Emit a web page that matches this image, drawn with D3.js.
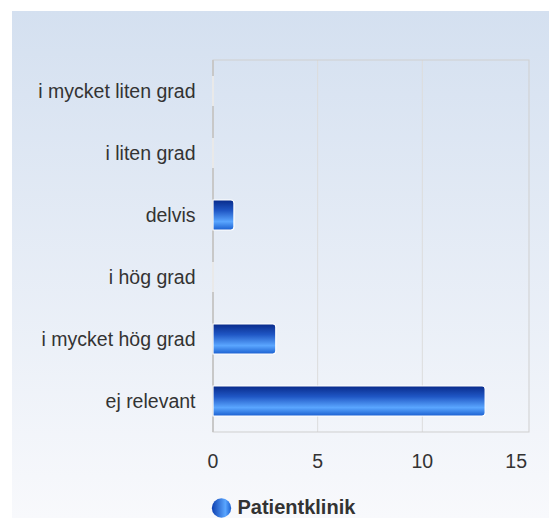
<!DOCTYPE html>
<html>
<head>
<meta charset="utf-8">
<script src="https://cdn.jsdelivr.net/npm/d3@7"></script>
<style>
  body { margin: 0; background: #fff; }
  text { font-family: "Liberation Sans", Arial, sans-serif; fill: #333; }
</style>
</head>
<body>
<div id="chart"></div>
<script>
var categories = ["i mycket liten grad", "i liten grad", "delvis", "i hög grad", "i mycket hög grad", "ej relevant"];
var values = [0, 0, 1, 0, 3, 13];
var xTicks = [0, 5, 10, 15];
var seriesName = "Patientklinik";

var W = 549, H = 518;
var margin = {left: 213, right: 20, top: 60, bottom: 86};
var width = 529 - margin.left, height = 432 - margin.top;

var svg = d3.select("#chart").append("svg")
    .attr("width", W).attr("height", H);

var defs = svg.append("defs");
var bg = defs.append("linearGradient").attr("id", "bg")
    .attr("x1", 0).attr("y1", 0).attr("x2", 0).attr("y2", 1);
bg.append("stop").attr("offset", "0%").attr("stop-color", "#d4e0f0");
bg.append("stop").attr("offset", "100%").attr("stop-color", "#f8f9fc");

var barGrad = defs.append("linearGradient").attr("id", "bar")
    .attr("x1", 0).attr("y1", 0).attr("x2", 0).attr("y2", 1);
barGrad.append("stop").attr("offset", "0%").attr("stop-color", "#082a8a");
barGrad.append("stop").attr("offset", "35%").attr("stop-color", "#1f56c4");
barGrad.append("stop").attr("offset", "72%").attr("stop-color", "#5aa6ff");
barGrad.append("stop").attr("offset", "100%").attr("stop-color", "#1a5fd0");

var legGrad = defs.append("linearGradient").attr("id", "leg")
    .attr("x1", 0).attr("y1", 0).attr("x2", 1).attr("y2", 0);
legGrad.append("stop").attr("offset", "0%").attr("stop-color", "#0d3fb0");
legGrad.append("stop").attr("offset", "70%").attr("stop-color", "#5aa6ff");
legGrad.append("stop").attr("offset", "100%").attr("stop-color", "#1a5fd0");

svg.append("rect")
    .attr("x", 12).attr("y", 11)
    .attr("width", W - 12).attr("height", H - 11)
    .attr("fill", "url(#bg)");

var g = svg.append("g")
    .attr("transform", "translate(" + margin.left + "," + margin.top + ")");

var x = d3.scaleLinear().domain([0, 15]).range([0, 314]);
var y = d3.scaleBand().domain(categories).range([0, height])
    .paddingInner(0.516).paddingOuter(0.258);

// grid
g.selectAll(".grid").data(xTicks.slice(1, -1)).enter().append("line")
    .attr("x1", function (d) { return x(d); })
    .attr("x2", function (d) { return x(d); })
    .attr("y1", 0).attr("y2", height)
    .attr("stroke", "#dcdcdc").attr("stroke-width", 1);

g.append("rect")
    .attr("x", 0).attr("y", 0)
    .attr("width", width).attr("height", height)
    .attr("fill", "none").attr("stroke", "#cfcfcf").attr("stroke-width", 1);

g.append("line")
    .attr("x1", 0).attr("x2", 0).attr("y1", 0).attr("y2", height)
    .attr("stroke", "#c8c8c8").attr("stroke-width", 2);

// bars
g.selectAll(".bar").data(values).enter().append("path")
    .attr("d", function (d, i) {
        var y0 = y(categories[i]), h = y.bandwidth(), w = x(d), r = Math.min(3, w);
        if (w === 0) return "M0," + y0 + "V" + (y0 + h);
        return "M0," + y0 + "H" + (w - r) + "Q" + w + "," + y0 + " " + w + "," + (y0 + r) +
            "V" + (y0 + h - r) + "Q" + w + "," + (y0 + h) + " " + (w - r) + "," + (y0 + h) + "H0Z";
    })
    .attr("fill", "url(#bar)")
    .attr("stroke", "#fff").attr("stroke-width", 1.2);

// category labels
g.selectAll(".cat").data(categories).enter().append("text")
    .attr("x", -17.5)
    .attr("y", function (d) { return y(d) + y.bandwidth() / 2; })
    .attr("dy", "0.35em")
    .attr("text-anchor", "end")
    .style("font-size", "19.5px")
    .text(function (d) { return d; });

// tick labels
g.selectAll(".tick").data(xTicks).enter().append("text")
    .attr("x", function (d) { return x(d); })
    .attr("y", height + 36)
    .attr("text-anchor", function (d, i) { return i === xTicks.length - 1 ? "end" : "middle"; })
    .style("font-size", "19.5px")
    .text(function (d) { return d; });

// legend
var leg = svg.append("g").attr("transform", "translate(221.5,508)");
leg.append("circle").attr("r", 9.7).attr("fill", "url(#leg)");
leg.append("text").attr("x", 16).attr("y", 6)
    .style("font-size", "20px").style("font-weight", "bold")
    .text(seriesName);
</script>
</body>
</html>
